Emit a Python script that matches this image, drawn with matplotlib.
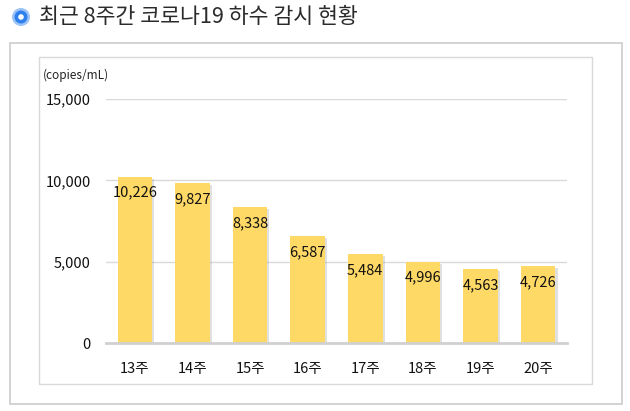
import matplotlib
matplotlib.use("Agg")
import matplotlib.pyplot as plt
from matplotlib.patches import Rectangle, Ellipse
import matplotlib.patheffects as pe

plt.rcParams['font.family'] = ['Noto Sans CJK KR', 'DejaVu Sans']

categories = ["13주", "14주", "15주", "16주", "17주", "18주", "19주", "20주"]
values = [10226, 9827, 8338, 6587, 5484, 4996, 4563, 4726]
ytick_vals = [0, 5000, 10000, 15000]
ytick_labels = ["0", "5,000", "10,000", "15,000"]
title = "최근 8주간 코로나19 하수 감시 현황"
unit = "(copies/mL)"

W, H = 630, 411
fig = plt.figure(figsize=(W / 100, H / 100), dpi=100)

def fx(px):
    return px / W

def fy(py):
    return 1 - py / H

# outer box
fig.patches.append(Rectangle((fx(10), fy(404)), fx(612), (404 - 43) / H, transform=fig.transFigure,
                             facecolor="white", edgecolor="#cccccc", linewidth=1.2, zorder=0))
# inner box
fig.patches.append(Rectangle((fx(39), fy(384)), fx(553), (384 - 57) / H, transform=fig.transFigure,
                             facecolor="white", edgecolor="#d9d9d9", linewidth=1.0, zorder=0))

def circ(cx, cy, r, color):
    fig.patches.append(Ellipse((fx(cx), fy(cy)), 2 * r / W, 2 * r / H, transform=fig.transFigure,
                               facecolor=color, edgecolor="none", zorder=0))

circ(21, 17, 9, "#9cc4f8")
circ(21, 17, 6.5, "#2f7fec")
circ(21, 17, 2.8, "white")
fig.text(fx(39), fy(17), title, fontsize=15.6, color="#2b2b2b", va="center", ha="left")

fig.text(fx(43), fy(75), unit, fontsize=8.5, color="#222222", va="center", ha="left")

ax = fig.add_axes([fx(106), fy(343), fx(567 - 106), (343 - 99) / H], zorder=3)
x = list(range(len(categories)))
bars = ax.bar(x, values, width=0.6, color="#ffd966", zorder=3)
for b in bars:
    b.set_path_effects([pe.SimplePatchShadow(offset=(1.5, -1.5), shadow_rgbFace="#999999", alpha=0.3),
                        pe.Normal()])
for xi, v in zip(x, values):
    ax.annotate(f"{v:,}", (xi, v), xytext=(0, -6.5), textcoords="offset points",
                ha="center", va="top", fontsize=10.5, color="#111111", zorder=4)

ax.set_xlim(-0.5, len(categories) - 0.5)
ax.set_ylim(0, 15000)
ax.set_yticks(ytick_vals)
ax.set_yticklabels(ytick_labels, fontsize=10.5, color="#111111")
ax.set_xticks(x)
ax.set_xticklabels(categories, fontsize=10.5, color="#111111")
ax.tick_params(axis="both", length=0)
ax.tick_params(axis="y", pad=11)
ax.tick_params(axis="x", pad=14)
ax.grid(axis="y", color="#d9d9d9", linewidth=1.0, zorder=0)
for s in ["top", "right", "left"]:
    ax.spines[s].set_visible(False)
ax.spines["bottom"].set_color("#d0d0d0")
ax.spines["bottom"].set_linewidth(2)
ax.spines["bottom"].set_zorder(5)
ax.set_facecolor("none")

fig.savefig("out.png", dpi=100)
